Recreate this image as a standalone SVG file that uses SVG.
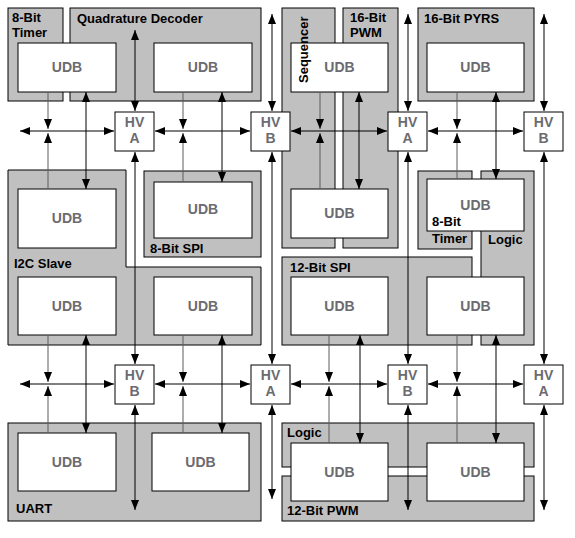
<svg xmlns="http://www.w3.org/2000/svg" width="575" height="538" viewBox="0 0 575 538">
<style>
.blk{fill:#c0c0c0;stroke:#000;stroke-width:1}
.udb{fill:#fff;stroke:#000;stroke-width:1}
.hv{fill:#fff;stroke:#000;stroke-width:1}
.ut{font-family:"Liberation Sans",Arial,sans-serif;font-weight:bold;font-size:14px;fill:#6b6b70;text-anchor:middle}
.lb{font-family:"Liberation Sans",Arial,sans-serif;font-weight:bold;font-size:13px;fill:#000}
.c{stroke:#000;stroke-width:1;fill:none}
.g{stroke:#5c5c5c;stroke-width:1;fill:none}
.d{marker-start:url(#a);marker-end:url(#a)}
.e{marker-end:url(#a)}
</style>
<defs>
<marker id="a" markerUnits="userSpaceOnUse" markerWidth="10" markerHeight="8" refX="10" refY="4" orient="auto-start-reverse" viewBox="0 0 10 8">
<path d="M0,0 L10,4 L0,8 z" fill="#000"/>
</marker>
</defs>
<rect width="575" height="538" fill="#fff"/>

<g id="blocks">
<g id="timer8a"><rect class="blk" x="8" y="8" width="55" height="93"/></g>
<g id="quad"><rect class="blk" x="70" y="8" width="191" height="93"/></g>
<g id="sequencer"><rect class="blk" x="282" y="8" width="53" height="240"/></g>
<g id="pwm16"><rect class="blk" x="343" y="8" width="55" height="240"/></g>
<g id="pyrs16"><rect class="blk" x="418" y="8" width="116" height="93"/></g>
<g id="i2c"><path class="blk" d="M8,170 H126 V267 H261 V345 H8 Z"/></g>
<g id="spi8"><rect class="blk" x="144" y="171" width="117" height="86"/></g>
<g id="timer8b"><rect class="blk" x="418" y="171" width="54" height="78"/></g>
<g id="logica"><rect class="blk" x="481" y="171" width="53" height="174"/></g>
<g id="spi12"><rect class="blk" x="282" y="257" width="190" height="88"/></g>
<g id="uart"><rect class="blk" x="8" y="423" width="253" height="98"/></g>
<g id="logicb"><rect class="blk" x="282" y="423" width="252" height="44"/></g>
<g id="pwm12"><rect class="blk" x="282" y="476" width="252" height="45"/></g>
</g>

<g id="udbs">
<g id="udb1"><rect class="udb" x="18" y="43" width="98" height="49"/><text class="ut" x="67" y="72">UDB</text></g>
<g id="udb2"><rect class="udb" x="154" y="43" width="98" height="49"/><text class="ut" x="203" y="72">UDB</text></g>
<g id="udb3"><rect class="udb" x="291" y="43" width="97" height="49"/><text class="ut" x="339.5" y="72">UDB</text></g>
<g id="udb4"><rect class="udb" x="427" y="43" width="97" height="49"/><text class="ut" x="475.5" y="72">UDB</text></g>
<g id="udb5"><rect class="udb" x="18" y="189" width="98" height="59"/><text class="ut" x="67" y="223">UDB</text></g>
<g id="udb6"><rect class="udb" x="154" y="182" width="98" height="56"/><text class="ut" x="203" y="214">UDB</text></g>
<g id="udb7"><rect class="udb" x="291" y="189" width="97" height="49"/><text class="ut" x="339.5" y="218">UDB</text></g>
<g id="udb8"><rect class="udb" x="427" y="179" width="97" height="52"/><text class="ut" x="475.5" y="210">UDB</text></g>
<g id="udb9"><rect class="udb" x="18" y="277" width="98" height="58"/><text class="ut" x="67" y="311">UDB</text></g>
<g id="udb10"><rect class="udb" x="154" y="277" width="98" height="58"/><text class="ut" x="203" y="311">UDB</text></g>
<g id="udb11"><rect class="udb" x="291" y="277" width="97" height="58"/><text class="ut" x="339.5" y="311">UDB</text></g>
<g id="udb12"><rect class="udb" x="427" y="277" width="97" height="58"/><text class="ut" x="475.5" y="311">UDB</text></g>
<g id="udb13"><rect class="udb" x="18" y="433" width="98" height="58"/><text class="ut" x="67" y="467">UDB</text></g>
<g id="udb14"><rect class="udb" x="152" y="433" width="97" height="58"/><text class="ut" x="200.5" y="467">UDB</text></g>
<g id="udb15"><rect class="udb" x="291" y="443" width="97" height="58"/><text class="ut" x="339.5" y="477">UDB</text></g>
<g id="udb16"><rect class="udb" x="427" y="443" width="97" height="58"/><text class="ut" x="475.5" y="477">UDB</text></g>
</g>

<g id="labels">
<text class="lb" x="12" y="22">8-Bit</text>
<text class="lb" x="12" y="37">Timer</text>
<text class="lb" x="77" y="23">Quadrature Decoder</text>
<text class="lb" transform="translate(308,83) rotate(-90)">Sequencer</text>
<text class="lb" x="350" y="22">16-Bit</text>
<text class="lb" x="350" y="37">PWM</text>
<text class="lb" x="424" y="23">16-Bit PYRS</text>
<text class="lb" x="14" y="268">I2C Slave</text>
<text class="lb" x="150" y="253">8-Bit SPI</text>
<text class="lb" x="432" y="226">8-Bit</text>
<text class="lb" x="432" y="243">Timer</text>
<text class="lb" x="488" y="244">Logic</text>
<text class="lb" x="290" y="272">12-Bit SPI</text>
<text class="lb" x="287" y="437">Logic</text>
<text class="lb" x="287" y="515">12-Bit PWM</text>
<text class="lb" x="16" y="513">UART</text>
</g>

<g id="connectors">
<line class="c d" x1="20" y1="131" x2="114" y2="131"/>
<line class="c d" x1="155" y1="131" x2="250" y2="131"/>
<line class="c d" x1="291" y1="131" x2="387" y2="131"/>
<line class="c d" x1="428" y1="131" x2="523" y2="131"/>
<line class="c d" x1="20" y1="384" x2="114" y2="384"/>
<line class="c d" x1="155" y1="384" x2="250" y2="384"/>
<line class="c d" x1="291" y1="384" x2="387" y2="384"/>
<line class="c d" x1="428" y1="384" x2="523" y2="384"/>
<line class="c d" x1="135" y1="30" x2="135" y2="111"/>
<line class="c d" x1="272" y1="14" x2="272" y2="111"/>
<line class="c d" x1="408" y1="14" x2="408" y2="111"/>
<line class="c d" x1="544" y1="14" x2="544" y2="111"/>
<line class="c d" x1="135" y1="152" x2="135" y2="364"/>
<line class="c d" x1="272" y1="152" x2="272" y2="364"/>
<line class="c d" x1="408" y1="152" x2="408" y2="364"/>
<line class="c d" x1="544" y1="152" x2="544" y2="364"/>
<line class="c d" x1="135" y1="405" x2="135" y2="510"/>
<line class="c d" x1="272" y1="405" x2="272" y2="499"/>
<line class="c d" x1="408" y1="405" x2="408" y2="510"/>
<line class="c d" x1="544" y1="405" x2="544" y2="510"/>
<line class="c d" x1="86" y1="92" x2="86" y2="189"/>
<line class="c d" x1="222" y1="92" x2="222" y2="182"/>
<line class="c d" x1="359" y1="92" x2="359" y2="189"/>
<line class="c d" x1="496" y1="92" x2="496" y2="179"/>
<line class="c d" x1="86" y1="335" x2="86" y2="433"/>
<line class="c d" x1="222" y1="335" x2="222" y2="433"/>
<line class="c d" x1="360" y1="335" x2="360" y2="443"/>
<line class="c d" x1="496" y1="335" x2="496" y2="443"/>
<line class="g e" x1="48" y1="92" x2="48" y2="129"/>
<line class="g e" x1="48" y1="189" x2="48" y2="133"/>
<line class="g e" x1="183" y1="92" x2="183" y2="129"/>
<line class="g e" x1="183" y1="182" x2="183" y2="133"/>
<line class="g e" x1="320" y1="92" x2="320" y2="129"/>
<line class="g e" x1="320" y1="189" x2="320" y2="133"/>
<line class="g e" x1="457" y1="92" x2="457" y2="129"/>
<line class="g e" x1="457" y1="179" x2="457" y2="133"/>
<line class="g e" x1="48" y1="335" x2="48" y2="382"/>
<line class="g e" x1="48" y1="433" x2="48" y2="386"/>
<line class="g e" x1="183" y1="335" x2="183" y2="382"/>
<line class="g e" x1="183" y1="433" x2="183" y2="386"/>
<line class="g e" x1="329" y1="335" x2="329" y2="382"/>
<line class="g e" x1="329" y1="443" x2="329" y2="386"/>
<line class="g e" x1="457" y1="335" x2="457" y2="382"/>
<line class="g e" x1="457" y1="443" x2="457" y2="386"/>
</g>

<g id="hvs">
<g id="hv1"><rect class="hv" x="115" y="112" width="39" height="39"/><text class="ut" x="134.5" y="127">HV</text><text class="ut" x="134.5" y="143">A</text></g>
<g id="hv2"><rect class="hv" x="251" y="112" width="39" height="39"/><text class="ut" x="270.5" y="127">HV</text><text class="ut" x="270.5" y="143">B</text></g>
<g id="hv3"><rect class="hv" x="388" y="112" width="39" height="39"/><text class="ut" x="407.5" y="127">HV</text><text class="ut" x="407.5" y="143">A</text></g>
<g id="hv4"><rect class="hv" x="524" y="112" width="39" height="39"/><text class="ut" x="543.5" y="127">HV</text><text class="ut" x="543.5" y="143">B</text></g>
<g id="hv5"><rect class="hv" x="115" y="365" width="39" height="39"/><text class="ut" x="134.5" y="380">HV</text><text class="ut" x="134.5" y="396">B</text></g>
<g id="hv6"><rect class="hv" x="251" y="365" width="39" height="39"/><text class="ut" x="270.5" y="380">HV</text><text class="ut" x="270.5" y="396">A</text></g>
<g id="hv7"><rect class="hv" x="388" y="365" width="39" height="39"/><text class="ut" x="407.5" y="380">HV</text><text class="ut" x="407.5" y="396">B</text></g>
<g id="hv8"><rect class="hv" x="524" y="365" width="39" height="39"/><text class="ut" x="543.5" y="380">HV</text><text class="ut" x="543.5" y="396">A</text></g>
</g>
</svg>
